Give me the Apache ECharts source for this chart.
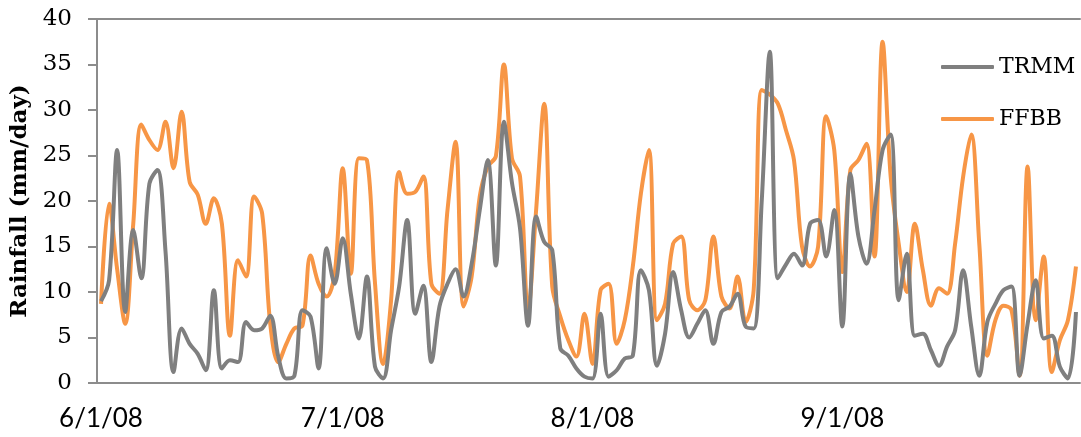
<!DOCTYPE html>
<html>
<head>
<meta charset="utf-8">
<script src="https://cdn.jsdelivr.net/npm/echarts@6/dist/echarts.min.js"></script>
<style>
html,body{margin:0;padding:0;background:#fff;}
#chart{width:1081px;height:437px;}
</style>
</head>
<body>
<div id="chart"></div>
<script>
// Daily dates 6/1/08 .. 9/30/08
const startDate = [2008, 5, 1]; // year, month index (June), day
const dayCount = 122;
const categories = [];
for (let i = 0; i < dayCount; i++) {
  const d = new Date(Date.UTC(startDate[0], startDate[1], startDate[2] + i));
  categories.push((d.getUTCMonth() + 1) + '/' + d.getUTCDate() + '/08');
}

const seriesNames = ['TRMM', 'FFBB'];

const trmm = [
  9.0, 11.3, 25.6, 7.8, 16.8, 11.5, 21.9, 23.4, 14.5, 1.2,
  6.0, 4.3, 3.2, 1.4, 10.2, 1.6, 2.5, 2.3, 6.7, 5.8,
  6.0, 7.4, 2.9, 0.5, 0.8, 8.0, 7.3, 1.6, 14.8, 10.9,
  15.9, 9.8, 4.9, 11.7, 1.8, 0.5, 5.8, 10.6, 17.9, 7.6,
  10.7, 2.3, 8.4, 10.9, 12.5, 9.5, 13.1, 19.0, 24.5, 12.9,
  28.7, 22.0, 17.0, 6.3, 18.3, 15.5, 14.6, 3.8, 3.0, 1.6,
  0.7, 0.5, 7.6, 0.7, 1.4, 2.7, 3.0, 12.4, 10.2, 1.9,
  5.4, 12.2, 8.0, 5.0, 6.5, 8.0, 4.3, 7.8, 8.4, 9.8,
  6.2, 6.0, 20.0, 36.4, 11.5, 13.0, 14.2, 12.9, 17.5, 17.9,
  13.9, 19.0, 6.2, 23.0, 16.1, 13.1, 19.0, 25.6, 27.3, 9.1,
  14.2, 5.2, 5.4, 3.6, 1.9, 4.0, 5.8, 12.4, 6.2, 0.8,
  6.7, 8.7, 10.2, 10.6, 0.8, 6.5, 11.3, 4.9, 5.2, 1.8,
  0.5, 7.8
];

const ffbb = [
  8.7, 19.7, 12.5, 6.5, 17.5, 28.4, 26.7, 25.6, 28.7, 23.6,
  29.8, 22.1, 20.7, 17.5, 20.3, 17.5, 5.2, 13.5, 11.7, 20.5,
  18.6, 6.5, 2.3, 4.3, 6.0, 6.3, 14.0, 10.9, 9.5, 12.0,
  23.6, 12.0, 24.7, 24.5, 11.0, 2.1, 9.1, 23.2, 20.8, 21.0,
  22.7, 10.9, 9.8, 19.0, 26.5, 8.4, 11.7, 20.5, 23.8, 24.9,
  35.0, 24.7, 22.7, 8.0, 19.0, 30.7, 10.6, 7.3, 4.7, 2.9,
  7.6, 2.1, 10.2, 10.9, 4.3, 6.9, 12.8, 20.8, 25.6, 6.9,
  8.7, 15.3, 16.1, 9.1, 8.0, 9.1, 16.1, 9.5, 8.2, 11.7,
  6.7, 10.2, 32.2, 31.7, 30.7, 27.8, 24.5, 15.0, 12.8, 15.0,
  29.3, 25.6, 12.2, 23.4, 24.5, 26.3, 13.9, 37.5, 22.7, 15.3,
  10.0, 17.5, 12.4, 8.5, 10.4, 9.8, 15.3, 22.7, 27.3, 15.3,
  3.0, 6.9, 8.5, 8.0, 0.8, 23.8, 6.9, 13.9, 1.2, 4.7,
  6.9, 12.8
];

const yTicks = { min: 0, max: 40, interval: 5 };
const yTitle = 'Rainfall (mm/day)';

const isMonthStart = (idx, val) => String(val).split('/')[1] === '1';
const axisGray = '#8c8c8c';

const chart = echarts.init(document.getElementById('chart'), null, { renderer: 'canvas' });
chart.setOption({
  animation: false,
  backgroundColor: '#ffffff',
  grid: { left: 97, right: 1, top: 19, bottom: 54, containLabel: false },
  legend: {
    orient: 'vertical',
    left: 941,
    top: 56,
    padding: 0,
    itemGap: 30,
    itemWidth: 53,
    itemHeight: 4,
    icon: 'roundRect',
    data: seriesNames,
    textStyle: { fontFamily: 'DejaVu Serif', fontSize: 22, color: '#000' }
  },
  xAxis: [{
    type: 'category',
    data: categories,
    boundaryGap: true,
    axisLine: { lineStyle: { color: axisGray, width: 2 } },
    axisTick: { interval: isMonthStart, length: 7, lineStyle: { color: axisGray, width: 2 } },
    axisLabel: {
      interval: isMonthStart,
      margin: 23,
      fontFamily: 'Lato',
      fontSize: 26,
      color: '#000'
    },
    splitLine: { show: false }
  }, {
    type: 'category',
    data: categories,
    position: 'top',
    boundaryGap: true,
    axisLine: { show: true, lineStyle: { color: axisGray, width: 2 } },
    axisTick: { show: false },
    axisLabel: { show: false },
    splitLine: { show: false }
  }],
  yAxis: {
    type: 'value',
    min: yTicks.min,
    max: yTicks.max,
    interval: yTicks.interval,
    name: yTitle,
    nameLocation: 'middle',
    nameGap: 58,
    nameRotate: 90,
    nameTextStyle: { fontFamily: 'DejaVu Serif', fontWeight: 'bold', fontSize: 23, color: '#000' },
    axisLine: { show: true, lineStyle: { color: axisGray, width: 2 } },
    axisTick: { show: true, length: 9, lineStyle: { color: axisGray, width: 2 } },
    axisLabel: { margin: 25, fontFamily: 'DejaVu Serif', fontSize: 23, color: '#000' },
    splitLine: { show: false }
  },
  series: [{
    name: seriesNames[0],
    type: 'line',
    data: trmm,
    smooth: 0.35,
    symbol: 'none',
    z: 3,
    lineStyle: { color: '#7f7f7f', width: 4 },
    itemStyle: { color: '#7f7f7f' }
  }, {
    name: seriesNames[1],
    type: 'line',
    data: ffbb,
    smooth: 0.35,
    symbol: 'none',
    z: 2,
    lineStyle: { color: '#f79646', width: 4 },
    itemStyle: { color: '#f79646' }
  }]
});
</script>
</body>
</html>
